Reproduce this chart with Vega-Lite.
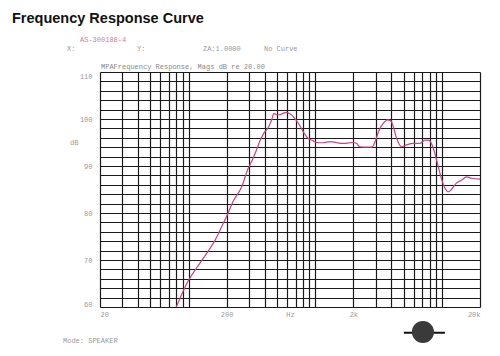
{
  "$schema": "https://vega.github.io/schema/vega-lite/v6.json",
  "width": 380,
  "height": 235,
  "autosize": "none",
  "padding": {"left": 100, "top": 72, "right": 20, "bottom": 49},
  "background": "white",
  "config": {"view": {"stroke": null}},
  "resolve": {"axis": {"x": "independent", "y": "independent"}},
  "data": {"values": [
    {"f": 80, "db": 60}, {"f": 100, "db": 65.7}, {"f": 115, "db": 68.2}, {"f": 139, "db": 71.4},
    {"f": 162, "db": 74.2}, {"f": 188, "db": 77.8}, {"f": 200, "db": 79.3}, {"f": 225, "db": 82.5},
    {"f": 263, "db": 85.6}, {"f": 296, "db": 89.5}, {"f": 318, "db": 91.2}, {"f": 345, "db": 93.5},
    {"f": 366, "db": 95.3}, {"f": 393, "db": 97}, {"f": 426, "db": 98.2}, {"f": 453, "db": 99.8},
    {"f": 472, "db": 101.2}, {"f": 496, "db": 100.9}, {"f": 523, "db": 100.9}, {"f": 556, "db": 101.2},
    {"f": 594, "db": 101.4}, {"f": 632, "db": 101.1}, {"f": 692, "db": 100.1}, {"f": 735, "db": 99.1},
    {"f": 805, "db": 97.3}, {"f": 876, "db": 95.9}, {"f": 960, "db": 95.4}, {"f": 1025, "db": 95.0},
    {"f": 1150, "db": 94.95}, {"f": 1307, "db": 95.2}, {"f": 1476, "db": 94.95}, {"f": 1666, "db": 94.8},
    {"f": 1881, "db": 94.95}, {"f": 2000, "db": 95.0}, {"f": 2124, "db": 94.8}, {"f": 2253, "db": 94.1},
    {"f": 2466, "db": 94.0}, {"f": 2794, "db": 94.0}, {"f": 2975, "db": 95.2}, {"f": 3160, "db": 97.3},
    {"f": 3455, "db": 99.1}, {"f": 3720, "db": 99.8}, {"f": 3960, "db": 99.6}, {"f": 4131, "db": 98.4},
    {"f": 4393, "db": 95.9}, {"f": 4810, "db": 94.1}, {"f": 5270, "db": 94.5}, {"f": 6000, "db": 94.8},
    {"f": 6713, "db": 94.8}, {"f": 7352, "db": 95.5}, {"f": 7860, "db": 95.5}, {"f": 8300, "db": 94.7},
    {"f": 8810, "db": 92.7}, {"f": 9360, "db": 89.9}, {"f": 10000, "db": 87.0}, {"f": 10570, "db": 85.3},
    {"f": 11200, "db": 84.5}, {"f": 11870, "db": 85.0}, {"f": 12960, "db": 86.3}, {"f": 14320, "db": 87.0},
    {"f": 15680, "db": 87.7}, {"f": 17130, "db": 87.4}, {"f": 20000, "db": 87.2}
  ]},
  "layer": [
    {
      "mark": {"type": "line", "color": "#c9437f", "strokeWidth": 1.2, "interpolate": "monotone", "clip": true},
      "encoding": {
        "x": {
          "field": "f", "type": "quantitative",
          "scale": {"type": "log", "domain": [20, 20000], "nice": false},
          "axis": {
            "title": null,
            "values": [20, 30, 40, 50, 60, 70, 80, 90, 100, 200, 300, 400, 500, 600, 700, 800, 900, 1000, 2000, 3000, 4000, 5000, 6000, 7000, 8000, 9000, 10000, 20000, 632],
            "labelExpr": "datum.value == 20 ? '20' : datum.value == 200 ? '200' : datum.value == 632 ? 'Hz' : datum.value == 2000 ? '2k' : datum.value == 20000 ? '20k' : ''",
            "labelOverlap": false,
            "labelFlush": true,
            "labelFont": "Liberation Mono",
            "labelFontSize": 7,
            "labelColor": "#999999",
            "labelPadding": 3,
            "ticks": false,
            "domain": false,
            "grid": true,
            "gridColor": "#1a1a1a",
            "gridWidth": 1.2,
            "gridOpacity": {"condition": {"test": "datum.value == 632", "value": 0}, "value": 1}
          }
        },
        "y": {
          "field": "db", "type": "quantitative",
          "scale": {"domain": [60, 110], "nice": false, "zero": false},
          "axis": {
            "title": null,
            "values": [60, 62, 64, 66, 68, 70, 72, 74, 76, 78, 80, 82, 84, 86, 88, 90, 92, 94, 95, 96, 98, 100, 102, 104, 106, 108, 110],
            "labelExpr": "datum.value == 95 ? 'dB' : datum.value % 10 == 0 ? datum.value : ''",
            "labelOverlap": false,
            "labelFlush": true,
            "labelFont": "Liberation Mono",
            "labelFontSize": 7,
            "labelColor": "#999999",
            "labelPadding": {"condition": {"test": "datum.value == 95", "value": 22}, "value": 8},
            "ticks": false,
            "domain": false,
            "grid": true,
            "gridColor": "#1a1a1a",
            "gridWidth": 1.2,
            "gridOpacity": {"condition": {"test": "datum.value == 95", "value": 0}, "value": 1}
          }
        }
      }
    },
    {
      "data": {"values": [{}]},
      "mark": {"type": "text", "align": "left", "baseline": "alphabetic", "font": "Liberation Sans", "fontWeight": "bold", "fontSize": 14.5, "color": "#111111"},
      "encoding": {"x": {"datum": 4.04, "type": "quantitative", "axis": null}, "y": {"datum": 120.43, "type": "quantitative", "axis": null}, "text": {"value": "Frequency Response Curve"}}
    },
    {
      "data": {"values": [{}]},
      "mark": {"type": "text", "align": "left", "baseline": "alphabetic", "font": "Liberation Mono", "fontSize": 7, "color": "#d0809a"},
      "encoding": {"x": {"datum": 13.9, "type": "quantitative", "axis": null}, "y": {"datum": 116.38, "type": "quantitative", "axis": null}, "text": {"value": "AS-300188-4"}}
    },
    {
      "data": {"values": [{}]},
      "mark": {"type": "text", "align": "left", "baseline": "alphabetic", "font": "Liberation Mono", "fontSize": 7, "color": "#999999"},
      "encoding": {"x": {"datum": 10.98, "type": "quantitative", "axis": null}, "y": {"datum": 114.47, "type": "quantitative", "axis": null}, "text": {"value": "X:"}}
    },
    {
      "data": {"values": [{}]},
      "mark": {"type": "text", "align": "left", "baseline": "alphabetic", "font": "Liberation Mono", "fontSize": 7, "color": "#999999"},
      "encoding": {"x": {"datum": 39.2, "type": "quantitative", "axis": null}, "y": {"datum": 114.47, "type": "quantitative", "axis": null}, "text": {"value": "Y:"}}
    },
    {
      "data": {"values": [{}]},
      "mark": {"type": "text", "align": "left", "baseline": "alphabetic", "font": "Liberation Mono", "fontSize": 7, "color": "#999999"},
      "encoding": {"x": {"datum": 130, "type": "quantitative", "axis": null}, "y": {"datum": 114.47, "type": "quantitative", "axis": null}, "text": {"value": "ZA:1.0000"}}
    },
    {
      "data": {"values": [{}]},
      "mark": {"type": "text", "align": "left", "baseline": "alphabetic", "font": "Liberation Mono", "fontSize": 7, "color": "#999999"},
      "encoding": {"x": {"datum": 394, "type": "quantitative", "axis": null}, "y": {"datum": 114.47, "type": "quantitative", "axis": null}, "text": {"value": "No Curve"}}
    },
    {
      "data": {"values": [{}]},
      "mark": {"type": "text", "align": "left", "baseline": "alphabetic", "font": "Liberation Mono", "fontSize": 7, "color": "#888888"},
      "encoding": {"x": {"datum": 20.37, "type": "quantitative", "axis": null}, "y": {"datum": 110.64, "type": "quantitative", "axis": null}, "text": {"value": "MPAFrequency Response, Mags dB re 20.00"}}
    },
    {
      "data": {"values": [{}]},
      "mark": {"type": "text", "align": "left", "baseline": "alphabetic", "font": "Liberation Mono", "fontSize": 7, "color": "#999999"},
      "encoding": {"x": {"datum": 10.21, "type": "quantitative", "axis": null}, "y": {"datum": 52.34, "type": "quantitative", "axis": null}, "text": {"value": "Mode: SPEAKER"}}
    },
    {
      "data": {"values": [{}]},
      "mark": {"type": "rule", "color": "#111111", "strokeWidth": 2},
      "encoding": {"x": {"datum": 5013, "type": "quantitative", "axis": null}, "x2": {"datum": 10570}, "y": {"datum": 54.5, "type": "quantitative", "axis": null}}
    },
    {
      "data": {"values": [{}]},
      "mark": {"type": "point", "shape": "circle", "filled": true, "size": 490, "color": "#3a3a3a", "opacity": 1},
      "encoding": {"x": {"datum": 7085, "type": "quantitative", "axis": null}, "y": {"datum": 54.68, "type": "quantitative", "axis": null}}
    }
  ]
}
